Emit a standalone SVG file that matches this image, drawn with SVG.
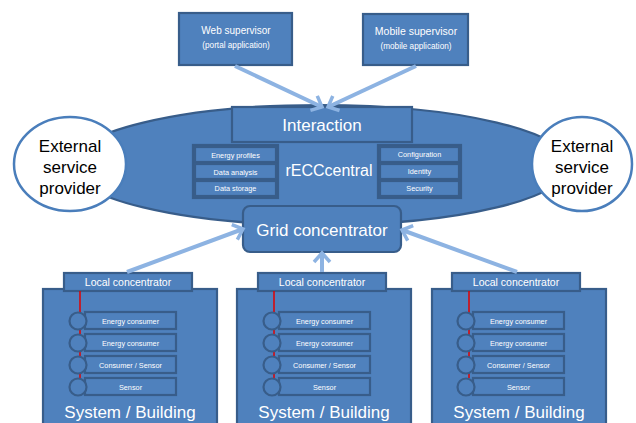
<svg xmlns="http://www.w3.org/2000/svg" width="636" height="423" viewBox="0 0 636 423">
<style>
.b{fill:#4f81bd;stroke:#385d8a;stroke-width:2.2}
.t{font-family:"Liberation Sans",Arial,sans-serif;fill:#fff;text-anchor:middle}
.k{font-family:"Liberation Sans",Arial,sans-serif;fill:#000;text-anchor:middle;font-size:17px}
.ext{fill:#fff;stroke:#4a7ebb;stroke-width:2.5}
.a{stroke:#8db3e2;stroke-width:4;fill:none;marker-end:url(#ah)}
.red{stroke:#e00000;stroke-width:1.5}
.s7{font-size:7.3px}
.s10{font-size:10.5px}
</style>
<defs>
<marker id="ah" markerUnits="userSpaceOnUse" markerWidth="20" markerHeight="20" viewBox="-12 -10 14 20" refX="0" refY="0" orient="auto">
<path d="M-9,-8 L0,0 L-9,8" fill="none" stroke="#8db3e2" stroke-width="3.5"/>
</marker>
</defs>

<g id="recc-central">
<ellipse cx="320" cy="165" rx="250" ry="60" class="b"/>
<text x="329" y="176" class="t" style="font-size:16px">rECCcentral</text>
</g>

<g id="ext-left">
<ellipse cx="70" cy="164" rx="56" ry="47" class="ext"/>
<text x="70" y="152" class="k">External</text>
<text x="70" y="173" class="k">service</text>
<text x="70" y="194" class="k">provider</text>
</g>
<g id="ext-right">
<ellipse cx="582" cy="164" rx="50" ry="47" class="ext"/>
<text x="582" y="152" class="k">External</text>
<text x="582" y="173" class="k">service</text>
<text x="582" y="194" class="k">provider</text>
</g>

<g id="web-supervisor">
<rect x="179" y="13" width="113" height="52" class="b"/>
<text x="236" y="34" class="t" style="font-size:10px">Web supervisor</text>
<text x="236" y="48" class="t" style="font-size:8.2px">(portal application)</text>
</g>
<g id="mobile-supervisor">
<rect x="363" y="14" width="105" height="51" class="b"/>
<text x="416" y="35" class="t" style="font-size:10.5px">Mobile supervisor</text>
<text x="416" y="49" class="t" style="font-size:8.2px">(mobile application)</text>
</g>

<g id="interaction">
<rect x="232" y="107" width="180" height="35" class="b"/>
<text x="322" y="131" class="t" style="font-size:17px">Interaction</text>
</g>

<g id="left-services">
<rect x="193" y="145" width="85" height="53" class="b"/>
<rect x="195" y="147" width="81" height="15" class="b"/>
<rect x="195" y="164" width="81" height="15" class="b"/>
<rect x="195" y="181" width="81" height="15" class="b"/>
<text x="235.5" y="157.5" class="t s7">Energy profiles</text>
<text x="235.5" y="174.5" class="t s7">Data analysis</text>
<text x="235.5" y="191" class="t s7">Data storage</text>
</g>
<g id="right-services">
<rect x="378" y="145" width="83" height="53" class="b"/>
<rect x="380" y="147" width="79" height="15" class="b"/>
<rect x="380" y="164" width="79" height="15" class="b"/>
<rect x="380" y="181" width="79" height="15" class="b"/>
<text x="419.5" y="157" class="t s7">Configuration</text>
<text x="419.5" y="174" class="t s7">Identity</text>
<text x="419.5" y="191" class="t s7">Security</text>
</g>

<g id="grid-concentrator">
<rect x="243" y="206" width="158" height="46" rx="7" class="b"/>
<text x="322" y="236" class="t" style="font-size:17px">Grid concentrator</text>
</g>

<g id="building-1">
<rect x="43" y="289" width="174" height="145" class="b"/>
<rect x="64" y="273" width="128" height="18" class="b"/>
<text x="128" y="286" class="t s10">Local concentrator</text>
<line x1="80" y1="291" x2="80" y2="378" class="red"/>
<rect x="85" y="312" width="91" height="17" class="b"/>
<rect x="85" y="334" width="91" height="17" class="b"/>
<rect x="85" y="356" width="91" height="17" class="b"/>
<rect x="85" y="378" width="91" height="17" class="b"/>
<circle cx="78" cy="321" r="8.5" class="b"/>
<circle cx="78" cy="343" r="8.5" class="b"/>
<circle cx="78" cy="365" r="8.5" class="b"/>
<circle cx="78" cy="387" r="8.5" class="b"/>
<text x="130.5" y="323.5" class="t s7">Energy consumer</text>
<text x="130.5" y="345.5" class="t s7">Energy consumer</text>
<text x="130.5" y="367.5" class="t s7">Consumer / Sensor</text>
<text x="130.5" y="389.5" class="t s7">Sensor</text>
<text x="130" y="418" class="t" style="font-size:17px">System / Building</text>
</g>

<g id="building-2">
<rect x="237" y="289" width="174" height="145" class="b"/>
<rect x="258" y="273" width="128" height="18" class="b"/>
<text x="322" y="286" class="t s10">Local concentrator</text>
<line x1="274" y1="291" x2="274" y2="378" class="red"/>
<rect x="279" y="312" width="91" height="17" class="b"/>
<rect x="279" y="334" width="91" height="17" class="b"/>
<rect x="279" y="356" width="91" height="17" class="b"/>
<rect x="279" y="378" width="91" height="17" class="b"/>
<circle cx="272" cy="321" r="8.5" class="b"/>
<circle cx="272" cy="343" r="8.5" class="b"/>
<circle cx="272" cy="365" r="8.5" class="b"/>
<circle cx="272" cy="387" r="8.5" class="b"/>
<text x="324.5" y="323.5" class="t s7">Energy consumer</text>
<text x="324.5" y="345.5" class="t s7">Energy consumer</text>
<text x="324.5" y="367.5" class="t s7">Consumer / Sensor</text>
<text x="324.5" y="389.5" class="t s7">Sensor</text>
<text x="324" y="418" class="t" style="font-size:17px">System / Building</text>
</g>

<g id="building-3">
<rect x="432" y="289" width="174" height="145" class="b"/>
<rect x="452" y="273" width="128" height="18" class="b"/>
<text x="516" y="286" class="t s10">Local concentrator</text>
<line x1="469" y1="291" x2="469" y2="378" class="red"/>
<rect x="473" y="312" width="91" height="17" class="b"/>
<rect x="473" y="334" width="91" height="17" class="b"/>
<rect x="473" y="356" width="91" height="17" class="b"/>
<rect x="473" y="378" width="91" height="17" class="b"/>
<circle cx="466" cy="321" r="8.5" class="b"/>
<circle cx="466" cy="343" r="8.5" class="b"/>
<circle cx="466" cy="365" r="8.5" class="b"/>
<circle cx="466" cy="387" r="8.5" class="b"/>
<text x="518.5" y="323.5" class="t s7">Energy consumer</text>
<text x="518.5" y="345.5" class="t s7">Energy consumer</text>
<text x="518.5" y="367.5" class="t s7">Consumer / Sensor</text>
<text x="518.5" y="389.5" class="t s7">Sensor</text>
<text x="519" y="418" class="t" style="font-size:17px">System / Building</text>
</g>

<g id="connectors">
<line x1="235" y1="66" x2="322" y2="107" class="a"/>
<line x1="416" y1="66" x2="328" y2="107" class="a"/>
<line x1="127" y1="272" x2="243" y2="229" class="a"/>
<line x1="322" y1="272" x2="322" y2="253" class="a"/>
<line x1="517" y1="272" x2="402" y2="230" class="a"/>
</g>
</svg>
